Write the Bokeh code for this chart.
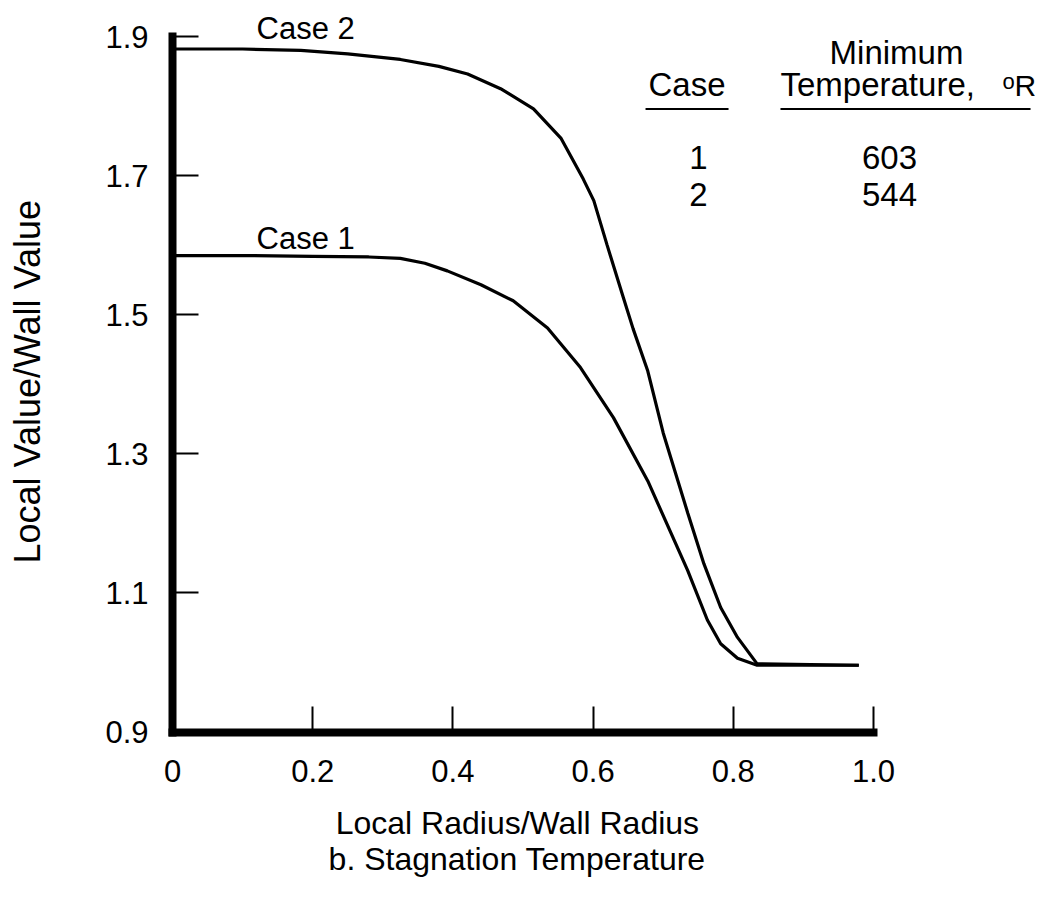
import math
from bokeh.plotting import figure
from bokeh.models import Range1d, Label, FixedTicker, ColumnDataSource
from bokeh.core.properties import value
from bokeh.embed import file_html
from bokeh.resources import INLINE

# ---------------- data ----------------
radius_case1 = [0.0, 0.10, 0.20, 0.28, 0.325, 0.36, 0.392, 0.44, 0.486, 0.535,
                0.582, 0.629, 0.678, 0.735, 0.763, 0.782, 0.806, 0.834, 0.979]
value_case1 = [1.585, 1.585, 1.584, 1.583, 1.581, 1.574, 1.563, 1.543, 1.520, 1.481,
               1.424, 1.352, 1.261, 1.132, 1.061, 1.027, 1.006, 0.996, 0.996]

radius_case2 = [0.0, 0.10, 0.183, 0.25, 0.325, 0.38, 0.421, 0.468, 0.515, 0.554,
                0.586, 0.601, 0.62, 0.643, 0.657, 0.678, 0.700, 0.735, 0.758,
                0.782, 0.806, 0.834, 0.979]
value_case2 = [1.882, 1.882, 1.880, 1.875, 1.867, 1.857, 1.846, 1.825, 1.796, 1.754,
               1.695, 1.664, 1.600, 1.525, 1.480, 1.419, 1.330, 1.215, 1.142,
               1.079, 1.036, 0.998, 0.996]

x_ticks = [0, 0.2, 0.4, 0.6, 0.8, 1.0]
x_tick_labels = ["0", "0.2", "0.4", "0.6", "0.8", "1.0"]
y_ticks = [0.9, 1.1, 1.3, 1.5, 1.7, 1.9]
y_tick_labels = ["0.9", "1.1", "1.3", "1.5", "1.7", "1.9"]

curve_names = ["Case 1", "Case 2"]
table_cases = ["1", "2"]
table_min_temps = ["603", "544"]

FONT = "Liberation Sans"

# ---------------- figure (frame covers the whole canvas, axes pinned) ----------------
W, H = 1035, 893
PX_X, PX_Y = 701.0, 695.5          # pixels per data unit
X0_PX, Y0_PX = 172.0, 731.5        # pixel position of the axes' origin
x_start = -X0_PX / PX_X
x_end = (W - X0_PX) / PX_X
y_start = 0.9 - (H - Y0_PX) / PX_Y
y_end = 0.9 + Y0_PX / PX_Y

p = figure(width=W, height=H,
           x_range=Range1d(x_start, x_end), y_range=Range1d(y_start, y_end),
           output_backend="svg", toolbar_location=None,
           min_border=0, min_border_left=0, min_border_right=0,
           min_border_top=0, min_border_bottom=0)
p.outline_line_color = None
p.grid.visible = False
p.background_fill_color = "white"
p.border_fill_color = "white"


def key(t):
    return int(t) if float(t).is_integer() else t


for ax, ticks, labels, bounds, loc in ((p.xaxis[0], x_ticks, x_tick_labels, (0, 1.0), 0.9),
                                       (p.yaxis[0], y_ticks, y_tick_labels, (0.9, 1.9), 0.0)):
    ax.fixed_location = loc
    ax.ticker = FixedTicker(ticks=ticks)
    ax.major_label_overrides = {key(t): l for t, l in zip(ticks, labels)}
    ax.bounds = bounds
    ax.axis_line_width = 8
    ax.axis_line_color = "black"
    ax.axis_line_cap = "square"
    ax.major_tick_in = 26
    ax.major_tick_out = 0
    ax.major_tick_line_width = 2
    ax.major_tick_line_color = "black"
    ax.minor_tick_line_color = None
    ax.major_label_text_font = FONT
    ax.major_label_text_font_size = "31px"
    ax.major_label_text_color = "black"

p.xaxis.major_label_standoff = 28
p.yaxis.major_label_standoff = 24

# text baseline correction (pixels -> data units)
def up(px):
    return px / PX_Y


# ---------------- curves ----------------
p.line(radius_case1, value_case1, line_color="black", line_width=3.2)
p.line(radius_case2, value_case2, line_color="black", line_width=3.2)

# curve labels
p.text(x=[0.12, 0.12], y=[1.595 + up(10), 1.8965 + up(10)], text=curve_names,
       text_font=value(FONT), text_font_size="31px", text_color="black",
       text_align="left", text_baseline="alphabetic")

# ---------------- table ----------------
TS = "33px"
S = up(11)
p.text(x=[0.734], y=[1.8145 + S], text=["Case"],
       text_font=value(FONT), text_font_size=TS, text_color="black",
       text_align="center", text_baseline="alphabetic")
p.text(x=[1.0328], y=[1.8605 + S], text=["Minimum"],
       text_font=value(FONT), text_font_size=TS, text_color="black",
       text_align="center", text_baseline="alphabetic")
p.text(x=[0.8673], y=[1.8145 + S], text=["Temperature,"],
       text_font=value(FONT), text_font_size=TS, text_color="black",
       text_align="left", text_baseline="alphabetic")
p.text(x=[1.184], y=[1.8246 + up(7)], text=["o"],
       text_font=value(FONT), text_font_size="22px", text_color="black",
       text_align="left", text_baseline="alphabetic")
p.text(x=[1.2011], y=[1.8145 + up(10)], text=["R"],
       text_font=value(FONT), text_font_size="30px", text_color="black",
       text_align="left", text_baseline="alphabetic")
p.segment(x0=[0.6748, 0.8673], y0=[1.7958, 1.7958], x1=[0.7932, 1.224], y1=[1.7958, 1.7958],
          line_color="black", line_width=2)

row_y = [1.7096 + S, 1.6565 + S]
tsrc = ColumnDataSource(dict(xc=[0.7504] * len(table_cases), xt=[1.0228] * len(table_cases),
                             y=row_y, case=table_cases, temp=table_min_temps))
p.text(x="xc", y="y", text="case", source=tsrc,
       text_font=value(FONT), text_font_size=TS, text_color="black",
       text_align="center", text_baseline="alphabetic")
p.text(x="xt", y="y", text="temp", source=tsrc,
       text_font=value(FONT), text_font_size=TS, text_color="black",
       text_align="center", text_baseline="alphabetic")

# ---------------- axis titles and caption ----------------
p.add_layout(Label(x=-0.2068, y=1.4036, angle=math.pi / 2,
                   text="Local Value/Wall Value", text_font=FONT,
                   text_font_size="36px", text_color="black",
                   text_align="center", text_baseline="alphabetic"))
p.add_layout(Label(x=0.492, y=0.754 + S,
                   text="Local Radius/Wall Radius", text_font=FONT,
                   text_font_size="32px", text_color="black",
                   text_align="center", text_baseline="alphabetic"))
p.add_layout(Label(x=0.498, y=0.701 + S,
                   text="b.  Stagnation Temperature", text_font=FONT,
                   text_font_size="32px", text_color="black",
                   text_align="center", text_baseline="alphabetic"))

open("out.html", "w").write(file_html(p, INLINE))
